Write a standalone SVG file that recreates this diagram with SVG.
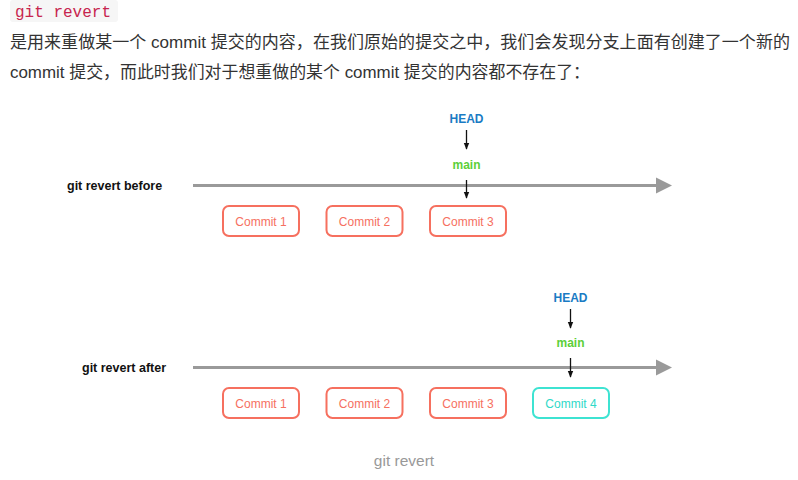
<svg xmlns="http://www.w3.org/2000/svg" width="798" height="480" viewBox="0 0 798 480">
<style>
.para{font-family:"Liberation Sans","Noto Sans CJK SC",sans-serif;font-size:16.5px;fill:#333}
.code{font-family:"Liberation Mono","DejaVu Sans Mono",monospace;font-size:16px;fill:#c7254e}
.lbl{font-family:"Liberation Sans",Arial,sans-serif;font-size:12.5px;font-weight:bold;fill:#111}
.head{font-family:"Liberation Sans",Arial,sans-serif;font-size:12px;font-weight:bold;fill:#1a7bc4}
.main{font-family:"Liberation Sans",Arial,sans-serif;font-size:12px;font-weight:bold;fill:#5ccf3a}
.box{fill:#fff;stroke:#f6705f;stroke-width:2}
.boxtxt{font-family:"Liberation Sans",Arial,sans-serif;font-size:12px;fill:#f6705f;text-anchor:middle}
.box4{fill:#fff;stroke:#3ee3d2;stroke-width:2}
.box4txt{font-family:"Liberation Sans",Arial,sans-serif;font-size:12px;fill:#2fd9c8;text-anchor:middle}
.axis{stroke:#9a9a9a;stroke-width:3;fill:none}
.ptr{stroke:#111;stroke-width:1.3;fill:none}
.cap{font-family:"Liberation Sans",Arial,sans-serif;font-size:15.5px;fill:#999;text-anchor:middle}
</style>
<defs>
<marker id="ah" viewBox="0 0 10 10" refX="9" refY="5" markerWidth="7" markerHeight="7" markerUnits="userSpaceOnUse" orient="auto">
<path d="M0,1 L10,5 L0,9 z" fill="#111"/>
</marker>
</defs>
<rect width="798" height="480" fill="#fff"/>
<rect x="10" y="0" width="108" height="22" rx="3" fill="#f6f6f6"/>
<text class="code" x="15" y="17">git revert</text>
<text class="para" x="10" y="48" textLength="780" lengthAdjust="spacingAndGlyphs">是用来重做某一个 commit 提交的内容，在我们原始的提交之中，我们会发现分支上面有创建了一个新的</text>
<text class="para" x="10" y="78" textLength="580" lengthAdjust="spacingAndGlyphs">commit 提交，而此时我们对于想重做的某个 commit 提交的内容都不存在了：</text>

<g id="connectors">
<line class="axis" x1="193" y1="185.5" x2="660" y2="185.5"/>
<path d="M656,177.5 L672,185.5 L656,193.5 z" fill="#9a9a9a"/>
<line class="axis" x1="193" y1="367.5" x2="660" y2="367.5"/>
<path d="M656,359.5 L672,367.5 L656,375.5 z" fill="#9a9a9a"/>
<line class="ptr" x1="466.5" y1="130" x2="466.5" y2="149" marker-end="url(#ah)"/>
<line class="ptr" x1="466.5" y1="180" x2="466.5" y2="198" marker-end="url(#ah)"/>
<line class="ptr" x1="570.5" y1="309" x2="570.5" y2="328" marker-end="url(#ah)"/>
<line class="ptr" x1="570.5" y1="358" x2="570.5" y2="377" marker-end="url(#ah)"/>
</g>

<g id="label-before"><text class="lbl" x="67" y="190">git revert before</text></g>
<g id="label-after"><text class="lbl" x="82" y="371.5">git revert after</text></g>

<g id="head-before"><text class="head" x="466.5" y="123" text-anchor="middle">HEAD</text></g>
<g id="main-before"><text class="main" x="466.5" y="169" text-anchor="middle">main</text></g>
<g id="head-after"><text class="head" x="570.5" y="302" text-anchor="middle">HEAD</text></g>
<g id="main-after"><text class="main" x="570.5" y="347" text-anchor="middle">main</text></g>

<g id="b-commit1"><rect class="box" x="223" y="206" width="76" height="30" rx="6"/><text class="boxtxt" x="261" y="225.5">Commit 1</text></g>
<g id="b-commit2"><rect class="box" x="326.5" y="206" width="76" height="30" rx="6"/><text class="boxtxt" x="364.5" y="225.5">Commit 2</text></g>
<g id="b-commit3"><rect class="box" x="430" y="206" width="76" height="30" rx="6"/><text class="boxtxt" x="468" y="225.5">Commit 3</text></g>

<g id="a-commit1"><rect class="box" x="223" y="388" width="76" height="30" rx="6"/><text class="boxtxt" x="261" y="407.5">Commit 1</text></g>
<g id="a-commit2"><rect class="box" x="326.5" y="388" width="76" height="30" rx="6"/><text class="boxtxt" x="364.5" y="407.5">Commit 2</text></g>
<g id="a-commit3"><rect class="box" x="430" y="388" width="76" height="30" rx="6"/><text class="boxtxt" x="468" y="407.5">Commit 3</text></g>
<g id="a-commit4"><rect class="box4" x="533" y="388" width="76" height="30" rx="6"/><text class="box4txt" x="571" y="407.5">Commit 4</text></g>

<text class="cap" x="404" y="466">git revert</text>
</svg>
